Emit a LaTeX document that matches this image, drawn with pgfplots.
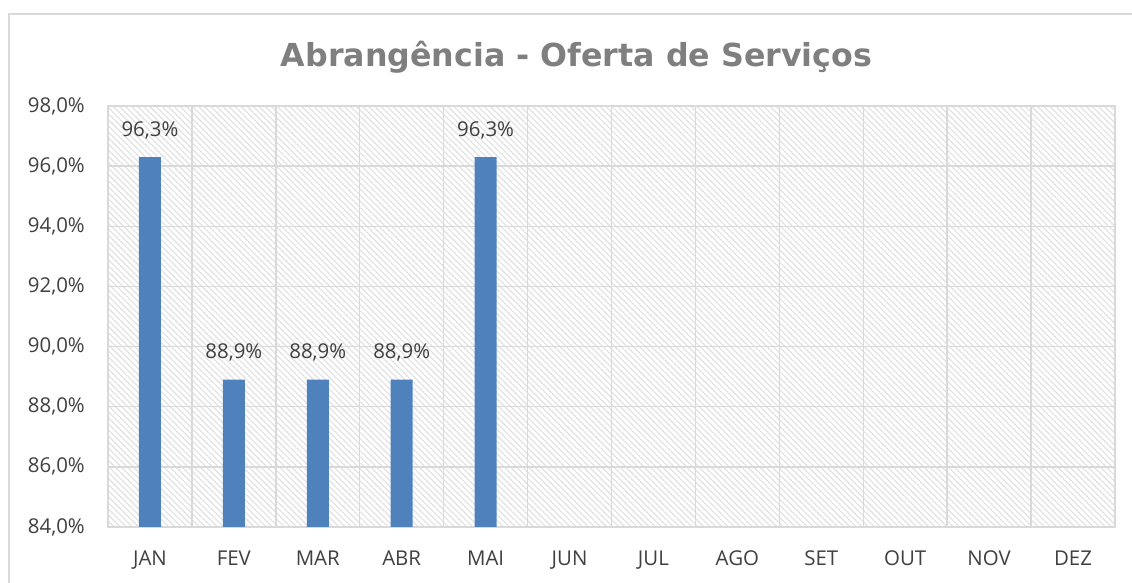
\documentclass[border=0pt]{standalone}
\usepackage{fontspec}
\setmainfont{Open Sans}
\newfontfamily\titlefont{DejaVu Sans}
\usepackage{pgfplots}
\pgfplotsset{compat=1.18}
\usetikzlibrary{patterns.meta}
\definecolor{barblue}{HTML}{4F81BD}
\definecolor{gridc}{HTML}{D9D9D9}
\definecolor{txt}{HTML}{404040}
\definecolor{ttl}{HTML}{7F7F7F}
\begin{document}
\begin{tikzpicture}[x=1bp,y=1bp]
\useasboundingbox (-108,-56) rectangle (1024,527);
\draw[gridc, line width=1.5bp] (-99,513) rectangle (1060,-90);
\begin{axis}[
  at={(0,0)}, anchor=south west,
  scale only axis, width=1007bp, height=421bp,
  xmin=-0.5, xmax=11.5, ymin=84, ymax=98,
  xtick={0,...,11},
  xticklabels={JAN,FEV,MAR,ABR,MAI,JUN,JUL,AGO,SET,OUT,NOV,DEZ},
  minor xtick={-0.5,0.5,...,11.5},
  ytick={84,86,...,98},
  yticklabels={{84,0\%},{86,0\%},{88,0\%},{90,0\%},{92,0\%},{94,0\%},{96,0\%},{98,0\%}},
  major tick length=0pt, minor tick length=0pt,
  ymajorgrids, xminorgrids,
  major grid style={gridc, line width=1.5bp},
  minor grid style={gridc, line width=1.5bp},
  axis line style={gridc, line width=1.5bp},
  axis background/.style={pattern={Lines[angle=-45,distance=4.3bp,line width=1.3bp]}, pattern color=gray!22},
  tick label style={font=\fontsize{20.5}{24}\selectfont, text=txt, inner sep=0pt},
  yticklabel style={anchor=east, xshift=-23bp},
  xticklabel style={anchor=base, yshift=-39bp},
  /pgf/number format/assume math mode=true,
  clip=false,
]
\addplot[ybar, bar width=22bp, fill=barblue, draw=none,
  nodes near coords={\pgfmathprintnumber[fixed,fixed zerofill,precision=1,use comma,assume math mode=true]{\pgfplotspointmeta}\%},
  nodes near coords style={font=\fontsize{20.5}{24}\selectfont, text=txt, anchor=south, inner sep=0pt, yshift=18bp},
] coordinates {(0,96.3) (1,88.9) (2,88.9) (3,88.9) (4,96.3)};
\end{axis}
\node[font=\titlefont\bfseries\fontsize{31.8}{36}\selectfont, text=ttl] at (468.5,470) {Abrangência - Oferta de Serviços};
\end{tikzpicture}
\end{document}
